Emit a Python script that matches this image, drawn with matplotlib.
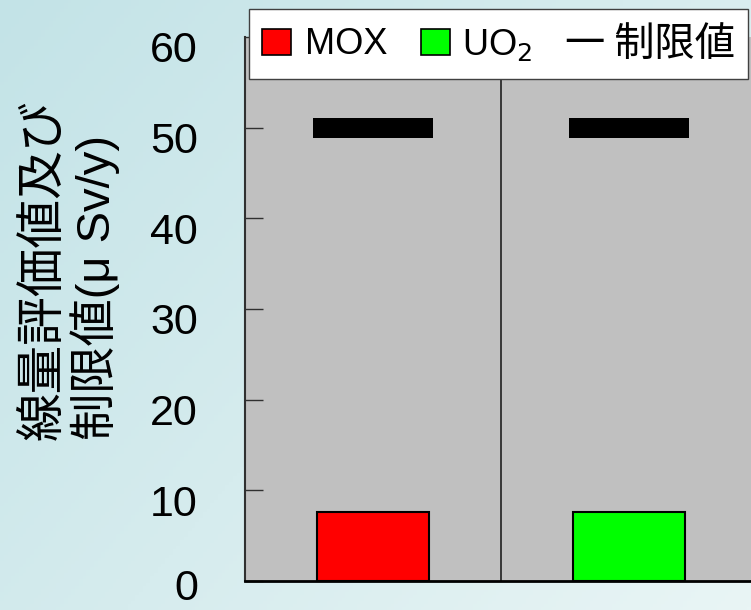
import numpy as np
import matplotlib
matplotlib.use("Agg")
import matplotlib.pyplot as plt
import matplotlib.patches as patches
import matplotlib.transforms as mtransforms

# data
categories = ["MOX", "UO2"]
dose_values = [7.6, 7.6]
limit_values = [50, 50]
bar_colors = ["#ff0000", "#00ff00"]
y_ticks = [0, 10, 20, 30, 40, 50, 60]

W, H = 751, 610
fig = plt.figure(figsize=(W / 100, H / 100), dpi=100)

# gradient background
bg = fig.add_axes([0, 0, 1, 1], zorder=-10)
gx, gy = np.meshgrid(np.linspace(0, 1, 200), np.linspace(0, 1, 200))
t = (gx * 0.6 + gy * 0.4)
c0 = np.array([195, 227, 231]) / 255.0
c1 = np.array([233, 245, 245]) / 255.0
img = c0[None, None, :] * (1 - t[..., None]) + c1[None, None, :] * t[..., None]
bg.imshow(img, aspect="auto", extent=[0, 1, 0, 1], origin="upper")
bg.axis("off")

ax = fig.add_axes([245 / W, (H - 581) / H, 512 / W, (581 - 37) / H])
ax.set_facecolor("#c0c0c0")

x = np.arange(len(categories))
ax.bar(x, dose_values, width=0.44, color=bar_colors, edgecolor="black", linewidth=1.5, zorder=3)
ax.hlines(limit_values, x - 0.235, x + 0.235, color="black", linewidth=14.4, capstyle="butt", zorder=3)
ax.axvline(0.5, color="#202020", linewidth=1.2, zorder=2)

ax.set_xlim(-0.5, 1.5)
ax.set_ylim(0, 60)
ax.set_xticks([])
ax.set_yticks(y_ticks)
ax.set_yticklabels([str(v) for v in y_ticks], family="Liberation Sans", fontsize=31)
ax.tick_params(axis="y", direction="in", length=13, width=1, color="#303030", pad=34)
# labels sit a little below their ticks, as in the original
for v, lbl in zip(y_ticks, ax.get_yticklabels()):
    dy = -3 if v == 0 else -10
    offset = mtransforms.ScaledTranslation(0, dy / 100, fig.dpi_scale_trans)
    lbl.set_transform(lbl.get_transform() + offset)

for s in ["top", "right"]:
    ax.spines[s].set_visible(False)
ax.spines["left"].set_linewidth(1.5)
ax.spines["left"].set_color("#303030")
ax.spines["bottom"].set_linewidth(2)
ax.spines["bottom"].set_color("black")

# y label (two lines, bottom aligned)
fam = ["Liberation Sans", "Noto Sans CJK JP"]
fig.text(44 / W, 1 - 440 / H, "線量評価値及び", rotation=90, ha="center", va="bottom",
         fontsize=35, family=fam)
fig.text(95 / W, 1 - 440 / H, "制限値(μ Sv/y)", rotation=90, ha="center", va="bottom",
         fontsize=34, family=fam)

# legend box drawn by hand
leg = patches.Rectangle((249 / W, 1 - 79 / H), (748 - 249) / W, 70 / H, transform=fig.transFigure,
                        facecolor="white", edgecolor="#404040", linewidth=1, zorder=5)
fig.add_artist(leg)
ty = 1 - 45 / H
for xs, col in [(262, bar_colors[0]), (421, bar_colors[1])]:
    sq = patches.Rectangle((xs / W, 1 - 55 / H), 29 / W, 26 / H, transform=fig.transFigure,
                           facecolor=col, edgecolor="black", linewidth=1.2, zorder=6)
    fig.add_artist(sq)
fig.text(305 / W, ty, "MOX", ha="left", va="center", fontsize=26, family="Liberation Sans", zorder=7)
fig.text(462 / W, ty, "UO$_2$", ha="left", va="center", fontsize=26, family="Liberation Sans", zorder=7)
fig.text(565 / W, ty, "一 制限値", ha="left", va="center", fontsize=29, family=["Noto Sans CJK JP"], zorder=7)

fig.savefig("out.png", dpi=100)
